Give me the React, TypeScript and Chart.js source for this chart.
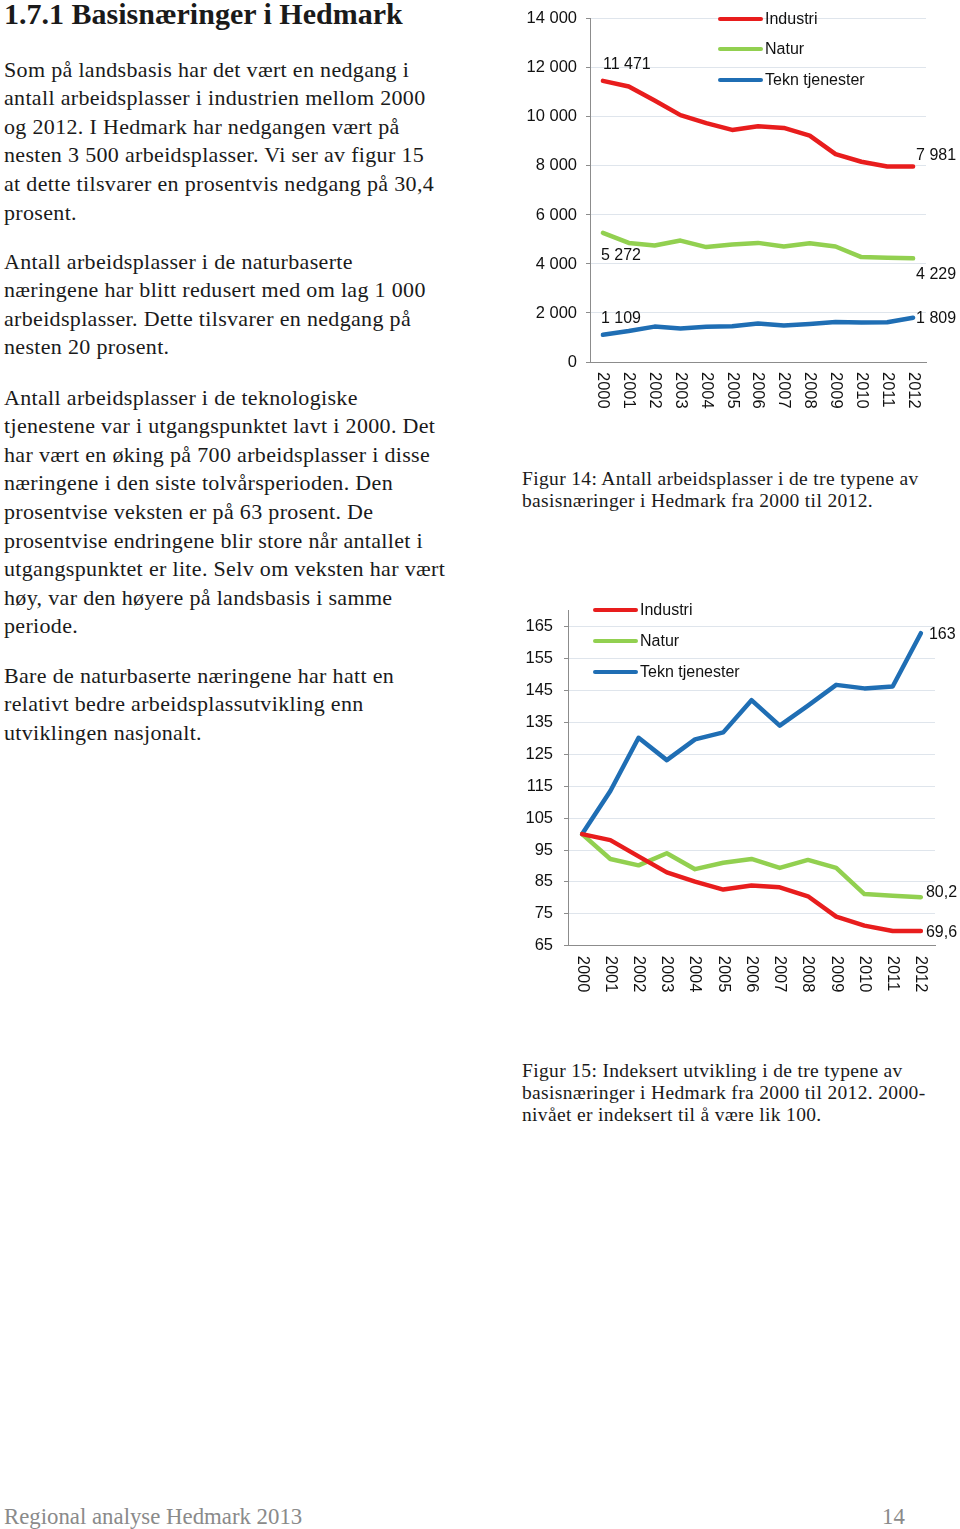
import React, { useEffect, useRef } from "react";
import { Chart, registerables } from "chart.js";

Chart.register(...registerables);

const YEARS = ["2000", "2001", "2002", "2003", "2004", "2005", "2006", "2007", "2008", "2009", "2010", "2011", "2012"];
const SERIES_NAMES = ["Industri", "Natur", "Tekn tjenester"];

const INDUSTRI_ANTALL = [11471, 11242, 10668, 10072, 9750, 9470, 9620, 9550, 9234, 8480, 8170, 7975, 7981];
const NATUR_ANTALL = [5272, 4860, 4755, 4955, 4690, 4797, 4860, 4713, 4845, 4713, 4281, 4255, 4229];
const TEKN_ANTALL = [1109, 1262, 1444, 1366, 1438, 1463, 1575, 1486, 1555, 1628, 1616, 1622, 1809];

const INDUSTRI_INDEKS = [100, 98.1, 93, 88, 85.1, 82.6, 83.9, 83.3, 80.5, 74.1, 71.3, 69.6, 69.6];
const NATUR_INDEKS = [100, 92.2, 90.2, 94, 89, 91, 92.2, 89.4, 91.9, 89.4, 81.2, 80.7, 80.2];
const TEKN_INDEKS = [100, 113.5, 130.2, 123.2, 129.7, 131.9, 142, 134, 140.3, 146.8, 145.7, 146.3, 163];

const ANTALL_TICKS = [0, 2000, 4000, 6000, 8000, 10000, 12000, 14000];
const INDEKS_TICKS = [65, 75, 85, 95, 105, 115, 125, 135, 145, 155, 165];

const COLORS = ["#e81d1d", "#92d050", "#1f6eb4"];
const AXIS_FONT = '"Liberation Sans", Arial, sans-serif';

const fmtThousands = (v: number) => String(v).replace(/\B(?=(\d{3})+(?!\d))/g, " ");
const fmtComma = (v: number) => String(v).replace(".", ",");

type LabelSpec = { ds: number; idx: number; text: string; dx: number; dy: number };

function makeChart(
  canvas: HTMLCanvasElement,
  opts: {
    series: number[][];
    yMin: number;
    yMax: number;
    yTicks: number[];
    yFmt: (v: number) => string;
    padTop: number;
    padRight: number;
    yWidth: number;
    xHeight: number;
    tickPad: number;
    legendX: number;
    legendY: number[];
    labels: LabelSpec[];
  }
) {
  const rotatedLabels = {
    id: "rotatedLabels",
    afterDraw(chart: any) {
      const x = chart.scales.x;
      const ctx = chart.ctx;
      ctx.save();
      ctx.font = `16.5px ${AXIS_FONT}`;
      ctx.fillStyle = "#111";
      YEARS.forEach((l, i) => {
        const px = x.getPixelForValue(i);
        ctx.save();
        ctx.translate(px, x.top + 10);
        ctx.rotate(Math.PI / 2);
        ctx.textAlign = "left";
        ctx.textBaseline = "middle";
        ctx.fillText(l, 0, 0);
        ctx.restore();
      });
      ctx.restore();
    },
  };
  const legendAndLabels = {
    id: "legendAndLabels",
    afterDraw(chart: any) {
      const ctx = chart.ctx;
      ctx.save();
      ctx.font = `16px ${AXIS_FONT}`;
      ctx.textBaseline = "middle";
      ctx.textAlign = "left";
      SERIES_NAMES.forEach((name, i) => {
        const y = opts.legendY[i];
        ctx.strokeStyle = COLORS[i];
        ctx.lineWidth = 4;
        ctx.lineCap = "round";
        ctx.beginPath();
        ctx.moveTo(opts.legendX, y);
        ctx.lineTo(opts.legendX + 41, y);
        ctx.stroke();
        ctx.fillStyle = "#111";
        ctx.fillText(name, opts.legendX + 45, y + 1);
      });
      opts.labels.forEach((l) => {
        const meta = chart.getDatasetMeta(l.ds);
        const pt = meta.data[l.idx];
        ctx.fillStyle = "#111";
        ctx.fillText(l.text, pt.x + l.dx, pt.y + l.dy);
      });
      ctx.restore();
    },
  };

  return new Chart(canvas, {
    type: "line",
    data: {
      labels: YEARS,
      datasets: opts.series.map((s, i) => ({
        label: SERIES_NAMES[i],
        data: s,
        borderColor: COLORS[i],
        backgroundColor: COLORS[i],
        borderWidth: 4.5,
        pointRadius: 0,
        tension: 0,
        borderJoinStyle: "round",
        borderCapStyle: "round",
        fill: false,
      })),
    },
    options: {
      responsive: false,
      animation: false,
      events: [],
      layout: { padding: { top: opts.padTop, right: opts.padRight, left: 0, bottom: 0 } },
      plugins: { legend: { display: false }, tooltip: { enabled: false } },
      scales: {
        x: {
          type: "category",
          offset: true,
          grid: { display: false },
          border: { display: true, color: "#8c8c8c", width: 1 },
          ticks: { display: false },
          afterFit: (s: any) => {
            s.height = opts.xHeight;
          },
        },
        y: {
          type: "linear",
          min: opts.yMin,
          max: opts.yMax,
          afterBuildTicks: (s: any) => {
            s.ticks = opts.yTicks.map((value) => ({ value }));
          },
          afterFit: (s: any) => {
            s.width = opts.yWidth;
          },
          grid: { color: "#dfe5ec", lineWidth: 1, tickColor: "#8c8c8c", tickLength: 4, drawTicks: true },
          border: { display: true, color: "#8c8c8c", width: 1 },
          ticks: {
            padding: opts.tickPad,
            color: "#111",
            font: { family: AXIS_FONT, size: 16.5 },
            callback: (v: any) => opts.yFmt(Number(v)),
          },
        },
      },
    },
    plugins: [rotatedLabels, legendAndLabels],
  } as any);
}

function AntallChart() {
  const ref = useRef<HTMLCanvasElement>(null);
  useEffect(() => {
    const c = makeChart(ref.current!, {
      series: [INDUSTRI_ANTALL, NATUR_ANTALL, TEKN_ANTALL],
      yMin: 0,
      yMax: 14000,
      yTicks: ANTALL_TICKS,
      yFmt: fmtThousands,
      padTop: 18,
      padRight: 34,
      yWidth: 70,
      xHeight: 58,
      tickPad: 9,
      legendX: 200,
      legendY: [19, 49, 80],
      labels: [
        { ds: 0, idx: 0, text: fmtThousands(INDUSTRI_ANTALL[0]), dx: 0, dy: -16 },
        { ds: 0, idx: 12, text: fmtThousands(INDUSTRI_ANTALL[12]), dx: 3, dy: -11 },
        { ds: 1, idx: 0, text: fmtThousands(NATUR_ANTALL[0]), dx: -2, dy: 23 },
        { ds: 1, idx: 12, text: fmtThousands(NATUR_ANTALL[12]), dx: 3, dy: 16 },
        { ds: 2, idx: 0, text: fmtThousands(TEKN_ANTALL[0]), dx: -2, dy: -16 },
        { ds: 2, idx: 12, text: fmtThousands(TEKN_ANTALL[12]), dx: 3, dy: 1 },
      ],
    });
    return () => c.destroy();
  }, []);
  return <canvas ref={ref} width={440} height={420} style={{ position: "absolute", left: 520, top: 0, width: 440, height: 420 }} />;
}

function IndeksChart() {
  const ref = useRef<HTMLCanvasElement>(null);
  useEffect(() => {
    const c = makeChart(ref.current!, {
      series: [INDUSTRI_INDEKS, NATUR_INDEKS, TEKN_INDEKS],
      yMin: 65,
      yMax: 170,
      yTicks: INDEKS_TICKS,
      yFmt: (v) => String(v),
      padTop: 13,
      padRight: 25,
      yWidth: 48,
      xHeight: 64.3,
      tickPad: 11,
      legendX: 75,
      legendY: [20, 51, 82],
      labels: [
        { ds: 2, idx: 12, text: "163", dx: 8, dy: 1 },
        { ds: 1, idx: 12, text: fmtComma(NATUR_INDEKS[12]), dx: 5, dy: -5 },
        { ds: 0, idx: 12, text: fmtComma(INDUSTRI_INDEKS[12]), dx: 5, dy: 2 },
      ],
    });
    return () => c.destroy();
  }, []);
  return <canvas ref={ref} width={440} height={420} style={{ position: "absolute", left: 520, top: 590, width: 440, height: 420 }} />;
}

const SERIF = '"Liberation Serif", "Times New Roman", serif';

const P1 = [
  "Som på landsbasis har det vært en nedgang i",
  "antall arbeidsplasser i industrien mellom 2000",
  "og 2012. I Hedmark har nedgangen vært på",
  "nesten 3 500 arbeidsplasser. Vi ser av figur 15",
  "at dette tilsvarer en prosentvis nedgang på 30,4",
  "prosent.",
];
const P2 = [
  "Antall arbeidsplasser i de naturbaserte",
  "næringene har blitt redusert med om lag 1 000",
  "arbeidsplasser. Dette tilsvarer en nedgang på",
  "nesten 20 prosent.",
];
const P3 = [
  "Antall arbeidsplasser i de teknologiske",
  "tjenestene var i utgangspunktet lavt i 2000. Det",
  "har vært en øking på 700 arbeidsplasser i disse",
  "næringene i den siste tolvårsperioden. Den",
  "prosentvise veksten er på 63 prosent. De",
  "prosentvise endringene blir store når antallet i",
  "utgangspunktet er lite. Selv om veksten har vært",
  "høy, var den høyere på landsbasis i samme",
  "periode.",
];
const P4 = [
  "Bare de naturbaserte næringene har hatt en",
  "relativt bedre arbeidsplassutvikling enn",
  "utviklingen nasjonalt.",
];
const CAP14 = [
  "Figur 14: Antall arbeidsplasser i de tre typene av",
  "basisnæringer i Hedmark fra 2000 til 2012.",
];
const CAP15 = [
  "Figur 15: Indeksert utvikling i de tre typene av",
  "basisnæringer i Hedmark fra 2000 til 2012. 2000-",
  "nivået er indeksert til å være lik 100.",
];

function Para({ lines, top, left, size, lh, ls }: { lines: string[]; top: number; left: number; size: number; lh: number; ls: number }) {
  return (
    <div style={{ position: "absolute", left, top, fontFamily: SERIF, fontSize: size, lineHeight: `${lh}px`, letterSpacing: ls, color: "#1a1a1a", whiteSpace: "nowrap" }}>
      {lines.map((l, i) => (
        <div key={i}>{l}</div>
      ))}
    </div>
  );
}

export default function App() {
  return (
    <div style={{ position: "absolute", left: 0, top: 0, width: 960, height: 1529, overflow: "hidden", background: "#fff" }}>
      <div style={{ position: "absolute", left: 4, top: 0, fontFamily: SERIF, fontWeight: "bold", fontSize: 30, lineHeight: "28px", color: "#1a1a1a", whiteSpace: "nowrap" }}>
        1.7.1 Basisnæringer i Hedmark
      </div>
      <Para lines={P1} top={55.7} left={4} size={22} lh={28.6} ls={0.33} />
      <Para lines={P2} top={247.7} left={4} size={22} lh={28.6} ls={0.33} />
      <Para lines={P3} top={383.7} left={4} size={22} lh={28.6} ls={0.33} />
      <Para lines={P4} top={661.7} left={4} size={22} lh={28.6} ls={0.33} />
      <AntallChart />
      <Para lines={CAP14} top={468} left={522} size={19.5} lh={22.4} ls={0.35} />
      <IndeksChart />
      <Para lines={CAP15} top={1060} left={522} size={19.5} lh={22.2} ls={0.35} />
      <div style={{ position: "absolute", left: 4, top: 1504, fontFamily: SERIF, fontSize: 22.8, lineHeight: "26px", color: "#8a8a8a", whiteSpace: "nowrap" }}>
        Regional analyse Hedmark 2013
      </div>
      <div style={{ position: "absolute", left: 882, top: 1504, fontFamily: SERIF, fontSize: 22.8, lineHeight: "26px", color: "#8a8a8a", whiteSpace: "nowrap" }}>
        14
      </div>
    </div>
  );
}
